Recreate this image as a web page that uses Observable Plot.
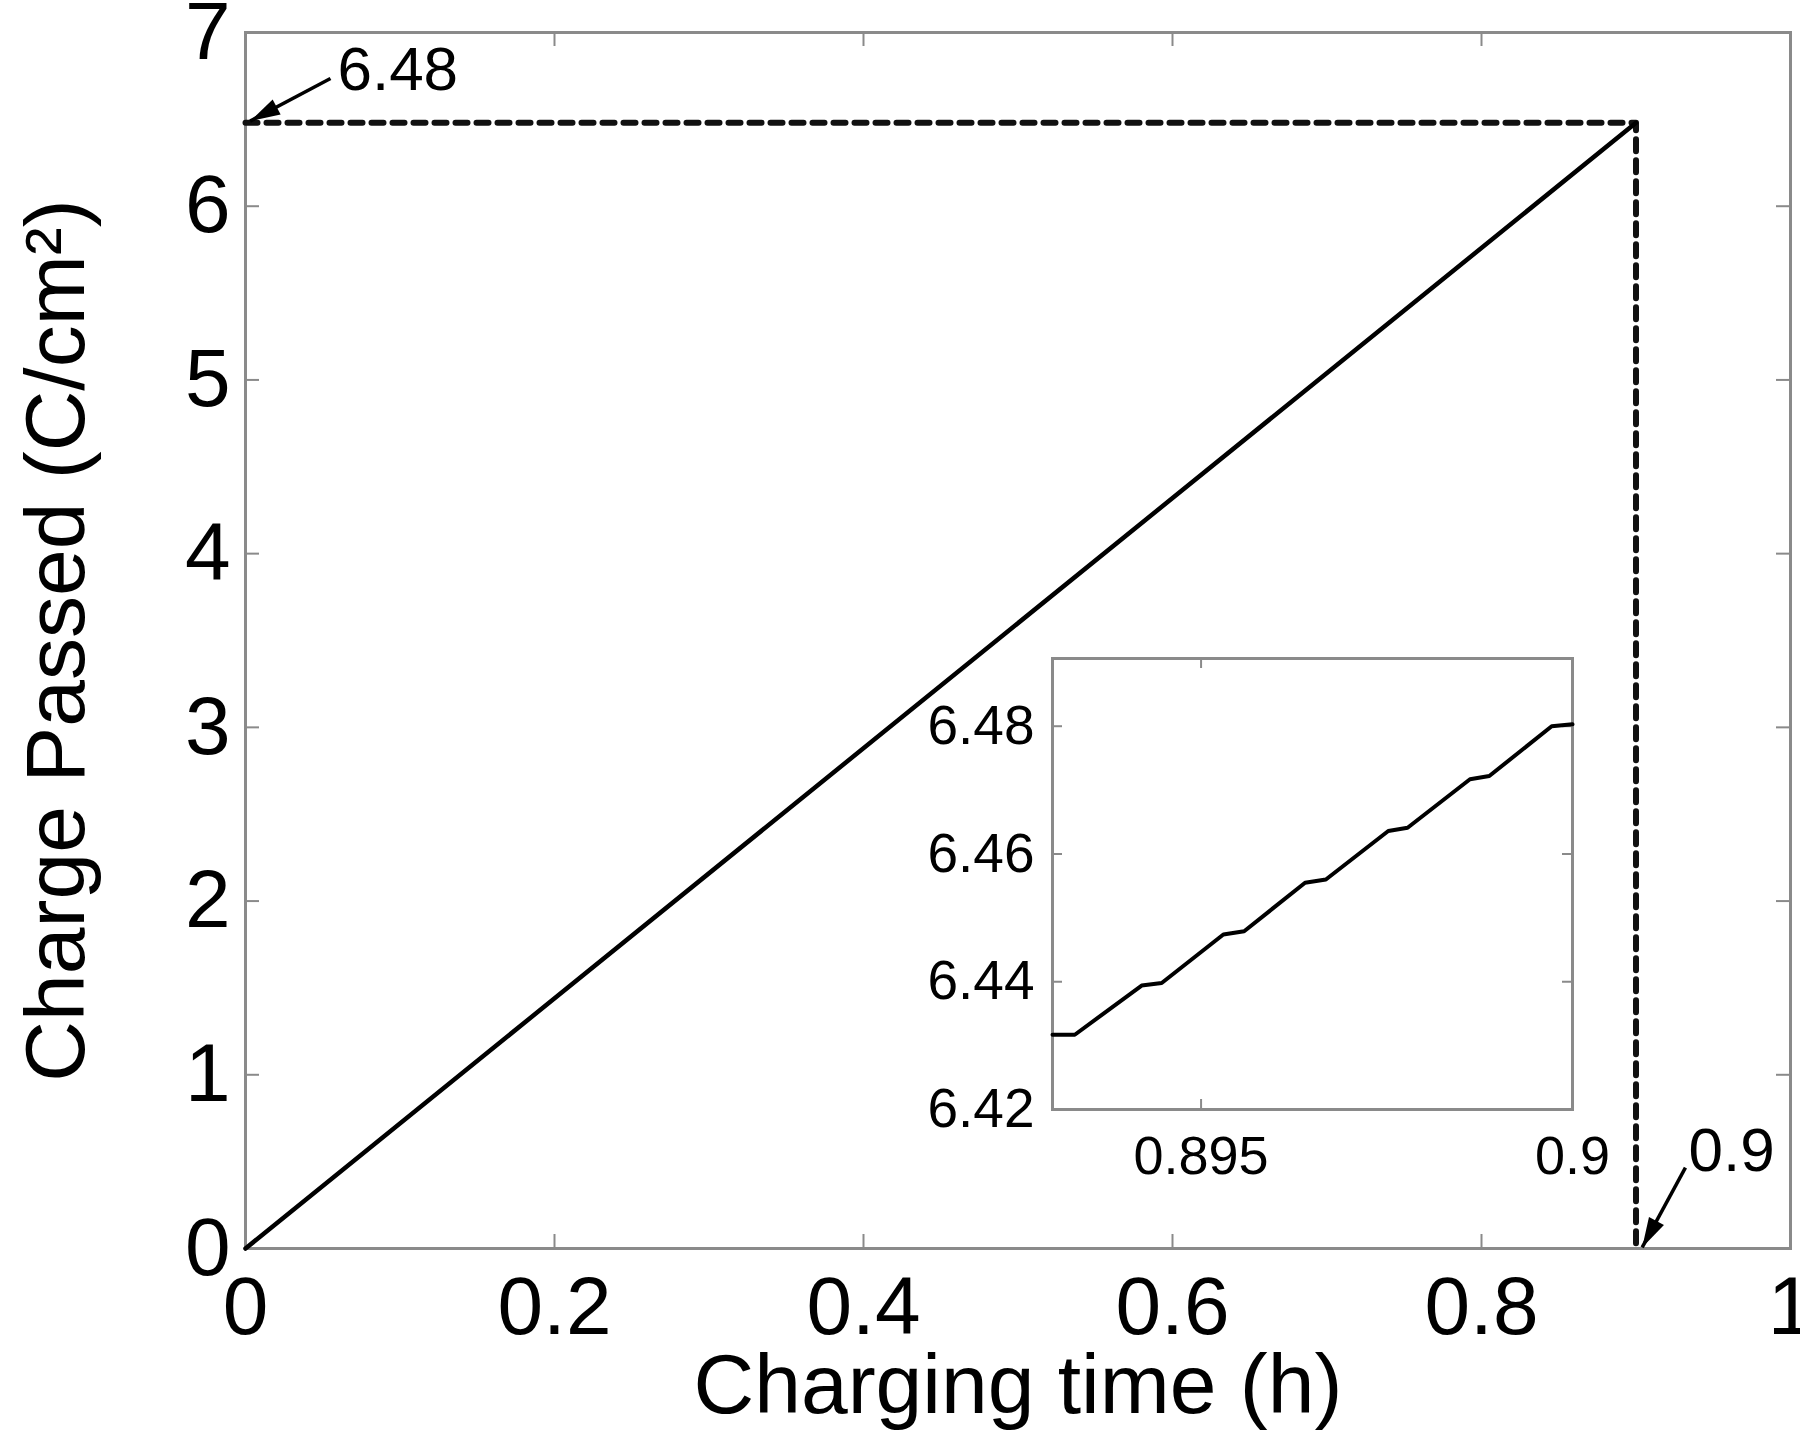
<!DOCTYPE html>
<html><head><meta charset="utf-8">
<script src="https://cdn.jsdelivr.net/npm/d3@7"></script>
<script src="https://cdn.jsdelivr.net/npm/@observablehq/plot@0.6"></script>
<style>
html,body{margin:0;padding:0;background:#fff;}
#wrap{position:relative;width:1800px;height:1431px;overflow:hidden;}
#inset{position:absolute;left:900px;top:640px;}
</style></head><body><div id="wrap"><div id="main"></div><div id="inset"></div></div>
<script>
// ---- data ----
const mainTime = [0, 0.9];
const mainCharge = [0, 6.48];
const xTicks = [0, 0.2, 0.4, 0.6, 0.8, 1];
const yTicks = [0, 1, 2, 3, 4, 5, 6, 7];
const endTime = 0.9;
const endCharge = 6.48;
const insetTime = [0.8930, 0.8933, 0.8942, 0.89447, 0.8953, 0.89558, 0.8964, 0.89668, 0.89752, 0.89778, 0.89862, 0.89888, 0.89972, 0.9000];
const insetCharge = [6.4317, 6.4317, 6.4394, 6.4398, 6.4474, 6.4479, 6.4555, 6.4560, 6.4636, 6.4641, 6.4717, 6.4722, 6.4800, 6.4803];
const insetXTicks = [0.895, 0.9];
const insetYTicks = [6.42, 6.44, 6.46, 6.48];
const xLabel = "Charging time (h)";
const yLabel = "Charge Passed (C/cm²)";
// annotations: label text, label anchor, arrow tail, arrow tip (data units)
const annotText = ["6.48", "0.9"];
const annotLabelX = [0.0595, 0.934];
const annotLabelY = [6.782, 0.558];
const annotTailX = [0.055, 0.932];
const annotTailY = [6.735, 0.466];
const annotTipX = [0.003, 0.904];
const annotTipY = [6.49, 0.006];

// ---- layout ----
const W = 1800, H = 1431;
const mL = 245, mR = 10, mT = 32, mB = 183;
const pw = W - mL - mR, ph = H - mT - mB;
const font = "Liberation Sans, Arial, Helvetica, sans-serif";
const axisGrey = "#8a8a8a";
const tickLen = 14;

// elongated filled arrow head, tip at the origin pointing up
const headSymbol = {draw(ctx) { const L = 30, w = 17; ctx.moveTo(0, 0); ctx.lineTo(-w / 2, L); ctx.lineTo(w / 2, L); ctx.closePath(); }};

const mainData = mainTime.map((t, i) => ({t, q: mainCharge[i]}));
const guide = [{t: 0, q: endCharge}, {t: endTime, q: endCharge}, {t: endTime, q: 0}];
const annots = annotText.map((s, i) => {
  const dxp = (annotTipX[i] - annotTailX[i]) * pw;
  const dyp = -(annotTipY[i] - annotTailY[i]) * ph / 7;
  const ang = Math.atan2(dxp, -dyp) * 180 / Math.PI;
  return {s, lx: annotLabelX[i], ly: annotLabelY[i], x1: annotTailX[i], y1: annotTailY[i],
          x2: annotTipX[i], y2: annotTipY[i], ang};
});

const main = Plot.plot({
  width: W, height: H,
  marginLeft: mL, marginRight: mR, marginTop: mT, marginBottom: mB,
  style: {fontFamily: font, background: "white", color: "#000", overflow: "visible"},
  x: {domain: [0, 1]},
  y: {domain: [0, 7]},
  marks: [
    Plot.axisX(xTicks, {tickSize: 0, tickPadding: 27, fontSize: 82, label: null, tickFormat: d => String(d)}),
    Plot.axisY(yTicks, {tickSize: 0, tickPadding: 15, fontSize: 82, label: null, tickFormat: d => String(d)}),
    Plot.tickX(xTicks.slice(1, -1), {x: d => d, insetTop: ph - tickLen, stroke: axisGrey, strokeWidth: 2}),
    Plot.tickX(xTicks.slice(1, -1), {x: d => d, insetBottom: ph - tickLen, stroke: axisGrey, strokeWidth: 2}),
    Plot.tickY(yTicks.slice(1, -1), {y: d => d, insetRight: pw - tickLen, stroke: axisGrey, strokeWidth: 2}),
    Plot.tickY(yTicks.slice(1, -1), {y: d => d, insetLeft: pw - tickLen, stroke: axisGrey, strokeWidth: 2}),
    Plot.frame({stroke: axisGrey, strokeWidth: 3}),
    Plot.line(guide, {x: "t", y: "q", stroke: "#111", strokeWidth: 6, strokeDasharray: "12,9"}),
    Plot.line(mainData, {x: "t", y: "q", stroke: "#000", strokeWidth: 4.5}),
    Plot.link(annots, {x1: "x1", y1: "y1", x2: "x2", y2: "y2", stroke: "#000", strokeWidth: 3.5}),
    Plot.dot(annots, {x: "x2", y: "y2", symbol: headSymbol, r: 8, fill: "#000", stroke: null, rotate: "ang"}),
    Plot.text(annots, {x: "lx", y: "ly", text: "s", textAnchor: "start", lineAnchor: "middle", fontSize: 62, fill: "#000"}),
    Plot.text([xLabel], {frameAnchor: "bottom", text: d => d, dy: 138, fontSize: 84, textAnchor: "middle", lineAnchor: "middle", fill: "#000"}),
    Plot.text([yLabel], {frameAnchor: "left", text: d => d, rotate: -90, dx: -188, fontSize: 84, textAnchor: "middle", lineAnchor: "middle", fill: "#000"})
  ]
});
document.getElementById("main").appendChild(main);

// ---- inset ----
const iW = 740, iH = 560;
const iL = 152, iT = 18, iR = 68, iB = 91;
const ipw = iW - iL - iR, iph = iH - iT - iB;
const iTick = 10;
const insetData = insetTime.map((t, i) => ({t, q: insetCharge[i]}));
const inset = Plot.plot({
  width: iW, height: iH,
  marginLeft: iL, marginRight: iR, marginTop: iT, marginBottom: iB,
  style: {fontFamily: font, background: "transparent", color: "#000", overflow: "visible"},
  x: {domain: [0.893, 0.9]},
  y: {domain: [6.42, 6.4906]},
  marks: [
    Plot.axisX(insetXTicks, {tickSize: 0, tickPadding: 26, fontSize: 54, label: null, tickFormat: d => String(d)}),
    Plot.axisY(insetYTicks, {tickSize: 0, tickPadding: 18, fontSize: 55, label: null, tickFormat: d => d.toFixed(2)}),
    Plot.tickX([insetXTicks[0]], {x: d => d, insetTop: iph - iTick, stroke: axisGrey, strokeWidth: 2}),
    Plot.tickX([insetXTicks[0]], {x: d => d, insetBottom: iph - iTick, stroke: axisGrey, strokeWidth: 2}),
    Plot.tickY(insetYTicks.slice(1), {y: d => d, insetRight: ipw - iTick, stroke: axisGrey, strokeWidth: 2}),
    Plot.tickY(insetYTicks.slice(1), {y: d => d, insetLeft: ipw - iTick, stroke: axisGrey, strokeWidth: 2}),
    Plot.frame({stroke: axisGrey, strokeWidth: 3}),
    Plot.line(insetData, {x: "t", y: "q", stroke: "#000", strokeWidth: 4, strokeLinejoin: "round"})
  ]
});
document.getElementById("inset").appendChild(inset);
</script></body></html>
